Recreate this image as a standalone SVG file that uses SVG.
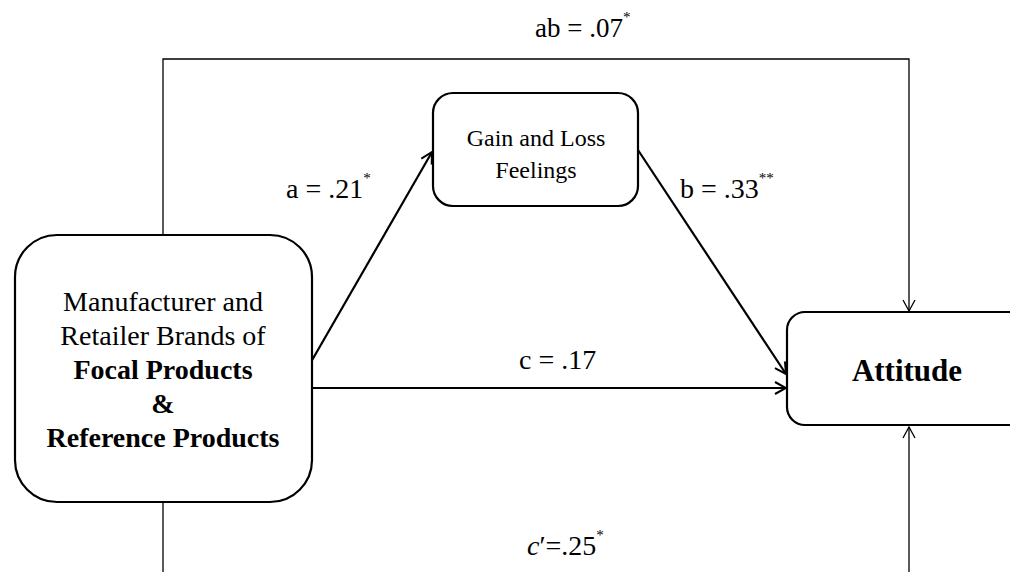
<svg xmlns="http://www.w3.org/2000/svg" width="1010" height="572" viewBox="0 0 1010 572">
<defs>
<style>
.box{fill:#fff;stroke:#000;stroke-width:2.2}
.t{fill:#000}
.c{text-anchor:middle}
.n{font-size:28px}
.b{font-weight:bold}
.lbl{font-size:28px}
.sup{font-size:15px}
.thin{fill:none;stroke:#000;stroke-width:1.3}
.thick{fill:none;stroke:#000;stroke-width:2.2}
</style>
<marker id="ah" markerUnits="userSpaceOnUse" markerWidth="14" markerHeight="14" viewBox="0 0 14 14" refX="13" refY="7" orient="auto">
<path d="M2,1 L13,7 L2,13" fill="none" stroke="#000" stroke-width="2"/>
</marker>
<marker id="ahs" markerUnits="userSpaceOnUse" markerWidth="14" markerHeight="14" viewBox="0 0 14 14" refX="13" refY="7" orient="auto">
<path d="M2,1 L13,7 L2,13" fill="none" stroke="#000" stroke-width="1.3"/>
</marker>
</defs>
<rect width="1010" height="572" fill="#fff"/>
<g id="connectors">
<path class="thin" d="M163,235 V59 H909 V311" marker-end="url(#ahs)"/>
<path class="thin" d="M163,502 V572"/>
<path class="thin" d="M909,572 V427" marker-end="url(#ahs)"/>
<path class="thick" d="M311,362 L432,152" marker-end="url(#ah)"/>
<path class="thick" d="M638,150 L786,374" marker-end="url(#ah)"/>
<path class="thick" d="M311,388 L786,388" marker-end="url(#ah)"/>
</g>
<g id="labels" font-family="'Liberation Serif', 'Times New Roman', Times, 'DejaVu Serif', serif">
<text class="t" x="535" y="37" font-size="27px">ab = .07<tspan class="sup" dy="-15">*</tspan></text>
<text class="t lbl" x="286" y="198">a = .21<tspan class="sup" dy="-15">*</tspan></text>
<text class="t lbl" x="680" y="198">b = .33<tspan class="sup" dy="-15">**</tspan></text>
<text class="t lbl" x="519" y="369">c = .17</text>
<text class="t lbl" x="527" y="555"><tspan font-style="italic">c</tspan>′=.25<tspan class="sup" dy="-15">*</tspan></text>
</g>
<g id="node-source" font-family="'Liberation Serif', 'Times New Roman', Times, 'DejaVu Serif', serif">
<rect class="box" x="15" y="235" width="297" height="267" rx="42"/>
<text class="t c n" x="163" y="311">Manufacturer and</text>
<text class="t c n" x="163" y="345">Retailer Brands of</text>
<text class="t c n b" x="163" y="379">Focal Products</text>
<text class="t c n b" x="163" y="413">&amp;</text>
<text class="t c n b" x="163" y="447">Reference Products</text>
</g>
<g id="node-gain" font-family="'Liberation Serif', 'Times New Roman', Times, 'DejaVu Serif', serif">
<rect class="box" x="433" y="93" width="205" height="113" rx="20"/>
<text class="t c" x="536" y="146" font-size="24px">Gain and Loss</text>
<text class="t c" x="536" y="178" font-size="24px">Feelings</text>
</g>
<g id="node-attitude" font-family="'Liberation Serif', 'Times New Roman', Times, 'DejaVu Serif', serif">
<rect class="box" x="787" y="312" width="240" height="113" rx="18"/>
<text class="t c b" x="907" y="381" font-size="31px">Attitude</text>
</g>
</svg>
